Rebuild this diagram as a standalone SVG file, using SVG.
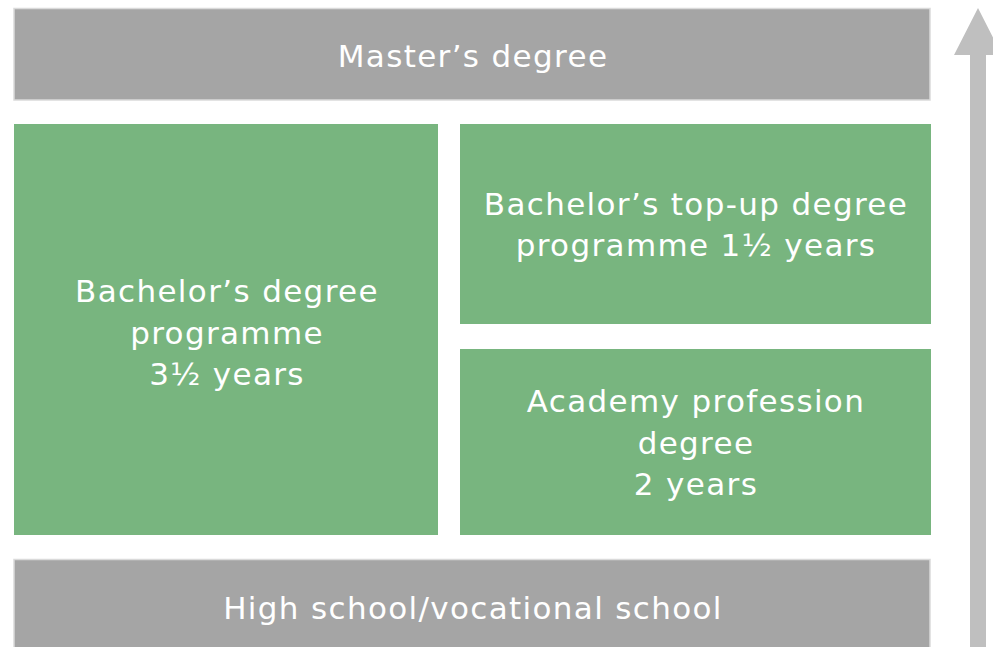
<svg xmlns="http://www.w3.org/2000/svg" width="993" height="647" viewBox="0 0 993 647">
<style>
.gray{fill:#a5a5a5;stroke:#dadada;stroke-width:1.5}
.green{fill:#78b57f}
.t{font-family:"DejaVu Sans","Liberation Sans",sans-serif;font-size:31px;letter-spacing:1.35px;fill:#ffffff;text-anchor:middle}
</style>
<rect width="993" height="647" fill="#ffffff"/>
<g id="masters">
<rect class="gray" x="14" y="8.5" width="916" height="91.5"/>
<text class="t" x="473" y="67">Master’s degree</text>
</g>
<g id="bachelor">
<rect class="green" x="14" y="124" width="424" height="411"/>
<text class="t" x="227" y="302">Bachelor’s degree</text>
<text class="t" x="227" y="343.5">programme</text>
<text class="t" x="227" y="385">3½ years</text>
</g>
<g id="topup">
<rect class="green" x="460" y="124" width="471" height="200"/>
<text class="t" x="696" y="215">Bachelor’s top-up degree</text>
<text class="t" x="696" y="256">programme 1½ years</text>
</g>
<g id="academy">
<rect class="green" x="460" y="349" width="471" height="186"/>
<text class="t" x="696" y="412">Academy profession</text>
<text class="t" x="696" y="453.5">degree</text>
<text class="t" x="696" y="495">2 years</text>
</g>
<g id="highschool">
<rect class="gray" x="14" y="559.5" width="916" height="100"/>
<text class="t" x="473" y="619">High school/vocational school</text>
</g>
<g id="connectors">
<polygon points="978,8 1002,55 986,55 986,647 970,647 970,55 954,55" fill="#bfbfbf"/>
</g>
</svg>
